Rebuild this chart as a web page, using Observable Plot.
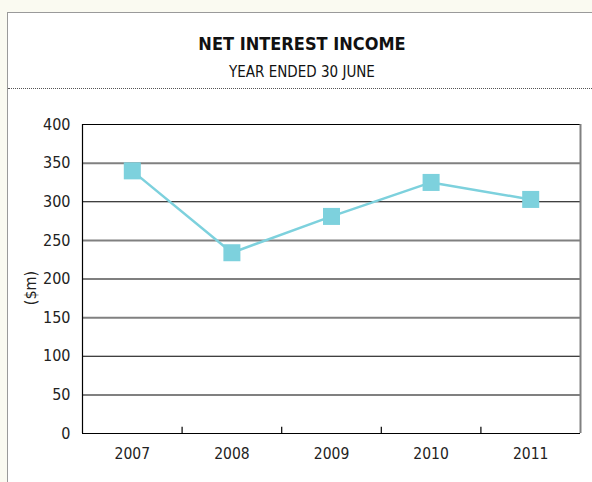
<!DOCTYPE html>
<html>
<head>
<meta charset="utf-8">
<script src="https://cdn.jsdelivr.net/npm/d3@7"></script>
<script src="https://cdn.jsdelivr.net/npm/@observablehq/plot@0.6"></script>
<style>
  html, body { margin: 0; padding: 0; background: #fafaf1; width: 592px; height: 482px; overflow: hidden; }
  #panel { position: absolute; left: 7px; top: 12px; width: 620px; height: 500px; background: #fff;
           border-left: 1.5px solid #9a9a9a; border-top: 1.5px solid #9a9a9a; }
  #title { position: absolute; left: 0; top: 33px; width: 604px; text-align: center;
           font-family: "DejaVu Sans Condensed", "DejaVu Sans", sans-serif; font-weight: bold; font-size: 18px; color: #111; }
  #subtitle { position: absolute; left: 0; top: 63px; width: 604px; text-align: center;
           font-family: "DejaVu Sans Condensed", "DejaVu Sans", sans-serif; font-size: 15px; color: #111; }
  #dots { position: absolute; left: 8px; top: 88px; width: 600px; border-top: 1px dotted #555; }
  #chart { position: absolute; left: 0; top: 100px; }
</style>
</head>
<body>
<div id="panel"></div>
<div id="title">NET INTEREST INCOME</div>
<div id="subtitle">YEAR ENDED 30 JUNE</div>
<div id="dots"></div>
<div id="chart"></div>
<script>
const years = [2007, 2008, 2009, 2010, 2011];
const income = [340, 234, 281, 325, 303];
const yTicks = [0, 50, 100, 150, 200, 250, 300, 350, 400];
const yLabel = "($m)";

const data = years.map((y, i) => ({year: y, value: income[i]}));
const separators = years.slice(0, -1).map(y => y + 0.5);
const xMin = years[0] - 0.5, xMax = years[years.length - 1] + 0.5;

const chart = Plot.plot({
  width: 592,
  height: 382,
  marginLeft: 82,
  marginRight: 12,
  marginTop: 24,
  marginBottom: 49,
  style: {background: "transparent", fontFamily: "'DejaVu Sans Condensed', 'DejaVu Sans', sans-serif", fontSize: "16px", color: "#222"},
  x: {domain: [xMin, xMax], label: null},
  y: {domain: [0, 400], label: null},
  marks: [
    Plot.ruleY(yTicks.filter(v => v > 0), {y: d => d, stroke: d => (d % 100 === 0 ? "#000" : "#808080"), strokeWidth: d => (d % 100 === 0 ? 1.2 : 2)}),
    Plot.ruleX([xMax], {stroke: "#808080", strokeWidth: 2}),
    Plot.ruleX([xMin], {stroke: "#000", strokeWidth: 1.2}),
    Plot.ruleY([0], {stroke: "#000", strokeWidth: 1.2}),
    Plot.ruleX(separators, {x: d => d, y1: 0, y2: 8, stroke: "#000", strokeWidth: 1.2}),
    Plot.axisX({ticks: years, tickFormat: d => String(d), tickSize: 0, tickPadding: 14, fontSize: 15.5, label: null}),
    Plot.axisY({ticks: yTicks, tickSize: 0, tickPadding: 12, fontSize: 16, label: null}),
    Plot.text([yLabel], {frameAnchor: "left", textAnchor: "middle", dx: -52, dy: 9, rotate: -90, fontSize: 16}),
    Plot.line(data, {x: "year", y: "value", stroke: "#7dd1dd", strokeWidth: 2.5}),
    Plot.dot(data, {x: "year", y: "value", symbol: "square", r: 9.6, fill: "#7dd1dd", stroke: "none"})
  ]
});
document.getElementById("chart").appendChild(chart);
</script>
</body>
</html>
